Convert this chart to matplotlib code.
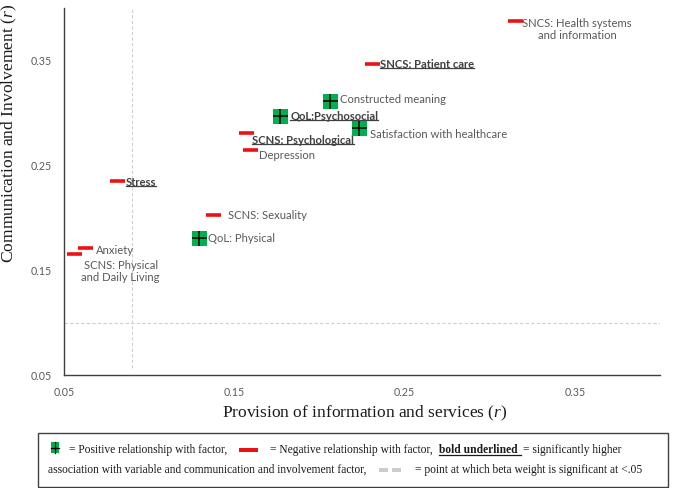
import matplotlib
matplotlib.use('Agg')
import matplotlib.pyplot as plt
from matplotlib.lines import Line2D
from matplotlib.patches import Rectangle
from matplotlib.font_manager import FontProperties
from matplotlib.transforms import IdentityTransform

# ---------------- data ----------------
names = ["SNCS: Health systems\nand information", "SNCS: Patient care", "Constructed meaning",
         "QoL:Psychosocial", "Satisfaction with healthcare", "SCNS: Psychological",
         "Depression", "Stress", "SCNS: Sexuality", "QoL: Physical", "Anxiety",
         "SCNS: Physical\nand Daily Living"]
provision = [0.315, 0.231, 0.206, 0.177, 0.2235, 0.157, 0.159, 0.081, 0.1376, 0.129, 0.0624, 0.0557]
communication = [0.388, 0.347, 0.311, 0.297, 0.286, 0.281, 0.2646, 0.235, 0.203, 0.181, 0.171, 0.165]
relationship = ['neg', 'neg', 'pos', 'pos', 'pos', 'neg', 'neg', 'neg', 'neg', 'pos', 'neg', 'neg']
significant = [False, True, False, True, False, True, False, True, False, False, False, False]
ticks = [0.05, 0.15, 0.25, 0.35]
tick_labels = ["0.05", "0.15", "0.25", "0.35"]
beta_sig_x = 0.09
beta_sig_y = 0.10

# label offsets in pixels (dx, dy up) and alignment
offsets = [(62, -9, 'center'), (8, -1, 'left'), (10, 2, 'left'), (10, 0, 'left'),
           (11, -7, 'left'), (6, -8, 'left'), (9, -6, 'left'), (9, -1, 'left'),
           (15, -1, 'left'), (9, -1, 'left'), (11, -2, 'left'), (47, -17, 'center')]

W, H = 674, 488
fig = plt.figure(figsize=(W / 100, H / 100), dpi=100)
renderer = fig.canvas.get_renderer()

def fit_size(s, family, target_px, weight='normal'):
    fp = FontProperties(family=family, size=10, weight=weight)
    w, h, d = renderer.get_text_width_height_descent(s, fp, ismath=False)
    return 10 * target_px / w

def fx(x):
    return x / W

def fy(y):
    return 1 - y / H

LABEL_FONT = 'Lato'
SERIF = 'Liberation Serif'
lab_size = fit_size("Constructed meaning", LABEL_FONT, 106)
tick_size = fit_size("0.35", LABEL_FONT, 21)
xl_size = fit_size("Provision of information and services (r)", SERIF, 284)
yl_size = fit_size("Communication and Involvement (r)", SERIF, 257)
leg_size = fit_size("association with variable and communication and involvement factor,", SERIF, 322)

plt.rcParams['mathtext.fontset'] = 'custom'
plt.rcParams['mathtext.it'] = 'Liberation Serif:italic'
plt.rcParams['mathtext.rm'] = 'Liberation Serif'

ax = fig.add_axes([fx(64), fy(375), (660 - 64) / W, (375 - 8) / H])
ax.set_xlim(0.05, 0.40)
ax.set_ylim(0.05, 0.40)
ax.set_xticks(ticks)
ax.set_xticklabels(tick_labels)
ax.set_yticks(ticks)
ax.set_yticklabels(tick_labels)
ax.tick_params(length=0, pad=8.5, labelsize=tick_size, labelcolor='#595959')
for lab in ax.get_xticklabels() + ax.get_yticklabels():
    lab.set_family(LABEL_FONT)
for s in ['top', 'right']:
    ax.spines[s].set_visible(False)
for s in ['left', 'bottom']:
    ax.spines[s].set_color('#404040')
    ax.spines[s].set_linewidth(1.0)

# reference lines (beta weight significance)
ax.axvline(beta_sig_x, ymin=0.02, ymax=1.0, color='#d0d0d0', lw=0.8, ls=(0, (3, 2)), zorder=1)
ax.axhline(beta_sig_y, color='#d0d0d0', lw=0.8, ls=(0, (3, 2)), zorder=1)

label_texts = []
for n, xv, yv, r, sig, (dx, dy, ha) in zip(names, provision, communication, relationship, significant, offsets):
    if r == 'pos':
        ax.plot(xv, yv, marker='s', ms=10.8, color='#00B050', mew=0, ls='none', zorder=5)
        ax.plot(xv, yv, marker='+', ms=10.8, color='black', mew=1.1, ls='none', zorder=6)
    else:
        ax.plot(xv, yv, marker='_', ms=10.8, color='#EE1111', mew=2.6, ls='none', zorder=5)
    t = ax.annotate(n, (xv, yv), xytext=(dx, dy), textcoords='offset pixels',
                    ha=ha, va='center', multialignment='center',
                    fontsize=lab_size, family=LABEL_FONT,
                    fontweight='bold' if sig else 'normal',
                    color='#404040' if sig else '#595959', zorder=4, linespacing=1.15)
    label_texts.append((t, sig))

fig.text(fx(365), fy(413), "Provision of information and services ($\\mathit{r}$)",
         ha='center', va='center', fontsize=xl_size, family=SERIF, color='#1a1a1a')
fig.text(fx(9), fy(133), "Communication and Involvement ($\\mathit{r}$)",
         ha='center', va='center', rotation=90, fontsize=yl_size, family=SERIF, color='#1a1a1a')

# ---------------- bottom legend box ----------------
fig.add_artist(Rectangle((fx(38), fy(487)), (668 - 38) / W, (487 - 433) / H,
                         transform=fig.transFigure, fill=False, edgecolor='#404040', lw=1.0))
# green icon
fig.add_artist(Rectangle((fx(51), fy(453)), 8 / W, 11 / H, transform=fig.transFigure,
                         facecolor='#00B050', edgecolor='none'))
fig.add_artist(Line2D([fx(55), fx(55)], [fy(442), fy(453)], transform=fig.transFigure, color='black', lw=0.9))
fig.add_artist(Line2D([fx(51), fx(59)], [fy(447.5), fy(447.5)], transform=fig.transFigure, color='black', lw=0.9))
# red icon
fig.add_artist(Rectangle((fx(239), fy(452)), 19 / W, 4 / H, transform=fig.transFigure,
                         facecolor='#EE1111', edgecolor='none'))
# gray dashes icon
fig.add_artist(Rectangle((fx(379), fy(472)), 9 / W, 4 / H, transform=fig.transFigure,
                         facecolor='#cccccc', edgecolor='none'))
fig.add_artist(Rectangle((fx(392), fy(472)), 9 / W, 4 / H, transform=fig.transFigure,
                         facecolor='#cccccc', edgecolor='none'))

lc = '#1a1a1a'
fig.text(fx(69), fy(450), "= Positive relationship with factor,", ha='left', va='center',
         fontsize=leg_size, family=SERIF, color=lc)
fig.text(fx(270), fy(450), "= Negative relationship with factor,", ha='left', va='center',
         fontsize=leg_size, family=SERIF, color=lc)
bold_leg = fig.text(fx(439), fy(450), "bold underlined", ha='left', va='center',
                    fontsize=leg_size, family=SERIF, fontweight='bold', color=lc)
fig.text(fx(523), fy(450), "= significantly higher", ha='left', va='center',
         fontsize=leg_size, family=SERIF, color=lc)
fig.text(fx(48), fy(470), "association with variable and communication and involvement factor,",
         ha='left', va='center', fontsize=leg_size, family=SERIF, color=lc)
fig.text(fx(415), fy(470), "= point at which beta weight is significant at <.05",
         ha='left', va='center', fontsize=leg_size, family=SERIF, color=lc)

# underlines
fig.canvas.draw()
renderer = fig.canvas.get_renderer()
for t, sig in label_texts:
    if sig:
        bb = t.get_window_extent(renderer)
        fig.add_artist(Line2D([bb.x0, bb.x1], [bb.y0 + 2, bb.y0 + 2], transform=IdentityTransform(),
                              color='#404040', lw=0.9, zorder=4))
bb = bold_leg.get_window_extent(renderer)
fig.add_artist(Line2D([bb.x0, bb.x1 + 3], [bb.y0 + 1.5, bb.y0 + 1.5], transform=IdentityTransform(),
                      color=lc, lw=0.9))

fig.savefig('out.png', dpi=100)
